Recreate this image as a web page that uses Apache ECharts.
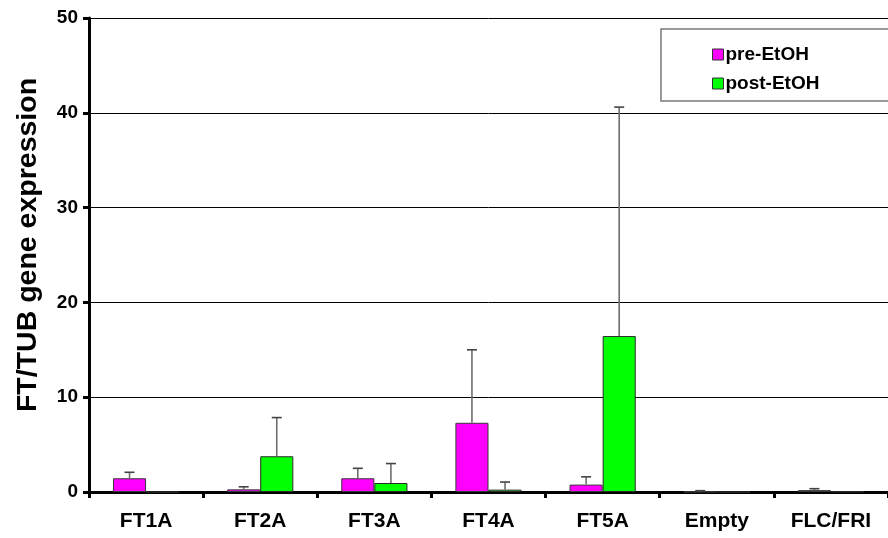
<!DOCTYPE html>
<html>
<head>
<meta charset="utf-8">
<script src="https://cdn.jsdelivr.net/npm/echarts@6/dist/echarts.min.js"></script>
<style>
  html, body { margin: 0; padding: 0; background: #fff; }
  #chart { width: 888px; height: 538px; }
</style>
</head>
<body>
<div id="chart"></div>
<script>
// Constructs and expression means (FT/TUB) before and after ethanol induction
const categories = ['FT1A', 'FT2A', 'FT3A', 'FT4A', 'FT5A', 'Empty', 'FLC/FRI'];
const preEtOH = [1.45, 0.28, 1.45, 7.3, 0.78, 0.02, 0.2];
const postEtOH = [0, 3.77, 0.95, 0.25, 16.45, 0, 0.04];
// Upper end of each error bar (mean + error); null where none is drawn
const preUpper = [2.08, 0.55, 2.5, 15.0, 1.6, 0.14, 0.35];
const postUpper = [null, 7.85, 3.0, 1.05, 40.6, null, null];
const yTicks = { min: 0, max: 50, interval: 10 };

const FONT = '"Liberation Sans", Arial, sans-serif';
const CAT_GAP = 0.42;   // fraction of a category left empty by the bar pair

const chart = echarts.init(document.getElementById('chart'));

// Error bar: vertical whisker from the bar top up to the upper value, with a short cap.
function errorRenderer(values, upper, side) {
  return function (params, api) {
    const i = params.dataIndex;
    const up = upper[i];
    if (up == null) return null;
    const catW = api.size([1, 0])[0];
    const barW = catW * (1 - CAT_GAP) / 2;
    const base = api.coord([i, values[i]]);
    const top = api.coord([i, up]);
    const x = base[0] + side * barW / 2;
    return {
      type: 'group',
      children: [
        { type: 'line', shape: { x1: x, y1: base[1], x2: x, y2: top[1] },
          style: { stroke: '#6e6e6e', lineWidth: 1.6 } },
        { type: 'line', shape: { x1: x - 5, y1: top[1], x2: x + 5, y2: top[1] },
          style: { stroke: '#444', lineWidth: 1.6 } }
      ]
    };
  };
}

const option = {
  animation: false,
  backgroundColor: '#ffffff',
  grid: { left: 89, top: 18, bottom: 46, width: 805, containLabel: false },
  legend: {
    data: ['pre-EtOH', 'post-EtOH'],
    orient: 'vertical',
    left: 661,
    top: 29,
    padding: [16, 120, 8, 51],
    itemGap: 10,
    itemWidth: 11,
    itemHeight: 11,
    icon: 'rect',
    itemStyle: { borderColor: '#333', borderWidth: 1 },
    borderColor: '#7a7a7a',
    borderWidth: 1.5,
    textStyle: { fontFamily: FONT, fontWeight: 'bold', fontSize: 19, color: '#000', padding: [0, 0, 0, -3] }
  },
  xAxis: {
    type: 'category',
    data: categories,
    boundaryGap: true,
    axisLine: { lineStyle: { color: '#000', width: 3 } },
    axisTick: { show: true, length: 6, inside: false, lineStyle: { color: '#000', width: 3 } },
    axisLabel: { fontFamily: FONT, fontWeight: 'bold', fontSize: 21, color: '#000', margin: 19 },
    splitLine: { show: false }
  },
  yAxis: {
    type: 'value',
    min: yTicks.min,
    max: yTicks.max,
    interval: yTicks.interval,
    name: 'FT/TUB gene expression',
    nameLocation: 'middle',
    nameGap: 46,
    nameTextStyle: { fontFamily: FONT, fontWeight: 'bold', fontSize: 28.5, color: '#000', padding: [0, 0, 0, 20] },
    axisLine: { show: true, lineStyle: { color: '#000', width: 3 } },
    axisTick: { show: true, length: 6, lineStyle: { color: '#000', width: 3 } },
    axisLabel: { fontFamily: FONT, fontWeight: 'bold', fontSize: 19, color: '#000', margin: 11 },
    splitLine: { show: true, lineStyle: { color: '#000', width: 1 } }
  },
  series: [
    {
      name: 'pre-EtOH',
      type: 'bar',
      data: preEtOH,
      barGap: '0%',
      barCategoryGap: (CAT_GAP * 100) + '%',
      itemStyle: { color: '#ff00ff', borderColor: '#3a3a3a', borderWidth: 1 }
    },
    {
      name: 'post-EtOH',
      type: 'bar',
      data: postEtOH,
      barGap: '0%',
      barCategoryGap: (CAT_GAP * 100) + '%',
      itemStyle: { color: '#00ff00', borderColor: '#2a2a2a', borderWidth: 1 }
    },
    {
      name: 'pre-EtOH error',
      type: 'custom',
      renderItem: errorRenderer(preEtOH, preUpper, -1),
      data: preUpper.map((v, i) => [i, v == null ? 0 : v]),
      z: 5,
      silent: true
    },
    {
      name: 'post-EtOH error',
      type: 'custom',
      renderItem: errorRenderer(postEtOH, postUpper, 1),
      data: postUpper.map((v, i) => [i, v == null ? 0 : v]),
      z: 5,
      silent: true
    }
  ]
};

chart.setOption(option);
</script>
</body>
</html>
